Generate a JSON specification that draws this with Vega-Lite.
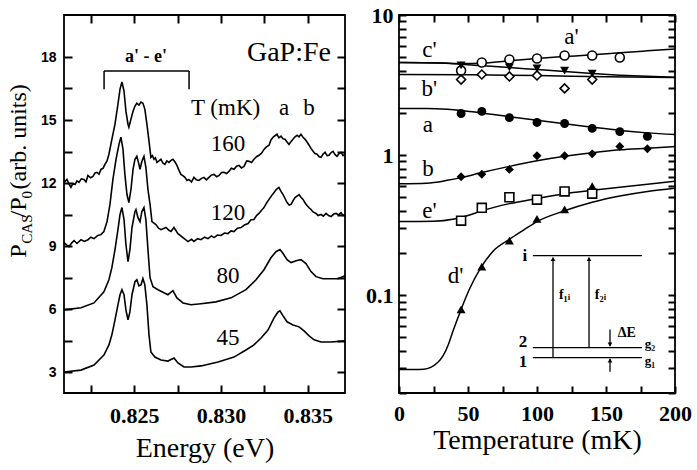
{
  "$schema": "https://vega.github.io/schema/vega-lite/v6.json",
  "background": "white",
  "padding": {"left": 6, "top": 3, "right": 5, "bottom": 5},
  "spacing": 14,
  "config": {
    "font": "Liberation Serif",
    "view": {"stroke": "black", "strokeWidth": 1.8},
    "axis": {"domain": false, "grid": false, "labelColor": "black", "titleColor": "black", "labelFont": "Liberation Serif", "titleFont": "Liberation Serif", "titleFontWeight": "normal", "labelFontWeight": "bold", "labelFontSize": 22, "titleFontSize": 28, "labelFlush": false, "labelOverlap": false}
  },
  "datasets": {
    "spectra": [
      {"T":45,"E":0.82095,"V":3.00},{"T":45,"E":0.82193,"V":3.09},{"T":45,"E":0.82268,"V":3.33},{"T":45,"E":0.82325,"V":3.81},{"T":45,"E":0.82354,"V":4.29},{"T":45,"E":0.82371,"V":4.77},{"T":45,"E":0.82389,"V":5.48},{"T":45,"E":0.82406,"V":6.20},{"T":45,"E":0.82418,"V":6.68},{"T":45,"E":0.82429,"V":6.92},{"T":45,"E":0.82441,"V":6.68},{"T":45,"E":0.82452,"V":5.96},{"T":45,"E":0.82464,"V":5.48},{"T":45,"E":0.82475,"V":5.86},{"T":45,"E":0.82487,"V":6.68},{"T":45,"E":0.82504,"V":7.30},{"T":45,"E":0.82515,"V":7.39},{"T":45,"E":0.82527,"V":7.10},{"T":45,"E":0.82539,"V":7.15},{"T":45,"E":0.82550,"V":7.45},{"T":45,"E":0.82561,"V":7.15},{"T":45,"E":0.82573,"V":6.20},{"T":45,"E":0.82585,"V":4.77},{"T":45,"E":0.82596,"V":3.95},{"T":45,"E":0.82619,"V":3.71},{"T":45,"E":0.82654,"V":3.57},{"T":45,"E":0.82694,"V":3.52},{"T":45,"E":0.82729,"V":3.67},{"T":45,"E":0.82752,"V":3.43},{"T":45,"E":0.82787,"V":3.24},{"T":45,"E":0.82827,"V":3.24},{"T":45,"E":0.82885,"V":3.29},{"T":45,"E":0.82983,"V":3.48},{"T":45,"E":0.83075,"V":3.71},{"T":45,"E":0.83144,"V":4.05},{"T":45,"E":0.83190,"V":4.29},{"T":45,"E":0.83231,"V":4.62},{"T":45,"E":0.83271,"V":5.00},{"T":45,"E":0.83306,"V":5.58},{"T":45,"E":0.83329,"V":5.86},{"T":45,"E":0.83340,"V":5.91},{"T":45,"E":0.83358,"V":5.67},{"T":45,"E":0.83381,"V":5.39},{"T":45,"E":0.83415,"V":5.24},{"T":45,"E":0.83450,"V":5.15},{"T":45,"E":0.83479,"V":4.96},{"T":45,"E":0.83508,"V":4.72},{"T":45,"E":0.83537,"V":4.53},{"T":45,"E":0.83577,"V":4.43},{"T":45,"E":0.83635,"V":4.43},{"T":45,"E":0.83715,"V":4.48},
      {"T":80,"E":0.82095,"V":5.96},{"T":80,"E":0.82193,"V":6.06},{"T":80,"E":0.82268,"V":6.29},{"T":80,"E":0.82325,"V":6.82},{"T":80,"E":0.82354,"V":7.39},{"T":80,"E":0.82371,"V":7.97},{"T":80,"E":0.82389,"V":8.83},{"T":80,"E":0.82406,"V":9.78},{"T":80,"E":0.82418,"V":10.50},{"T":80,"E":0.82429,"V":10.83},{"T":80,"E":0.82441,"V":10.26},{"T":80,"E":0.82452,"V":9.07},{"T":80,"E":0.82464,"V":8.25},{"T":80,"E":0.82475,"V":8.83},{"T":80,"E":0.82487,"V":9.88},{"T":80,"E":0.82504,"V":10.64},{"T":80,"E":0.82510,"V":10.74},{"T":80,"E":0.82521,"V":10.36},{"T":80,"E":0.82533,"V":10.16},{"T":80,"E":0.82544,"V":10.64},{"T":80,"E":0.82556,"V":10.83},{"T":80,"E":0.82567,"V":10.26},{"T":80,"E":0.82579,"V":8.83},{"T":80,"E":0.82591,"V":7.49},{"T":80,"E":0.82608,"V":7.06},{"T":80,"E":0.82637,"V":6.92},{"T":80,"E":0.82671,"V":6.77},{"T":80,"E":0.82694,"V":6.68},{"T":80,"E":0.82723,"V":6.87},{"T":80,"E":0.82746,"V":6.53},{"T":80,"E":0.82781,"V":6.29},{"T":80,"E":0.82827,"V":6.20},{"T":80,"E":0.82885,"V":6.25},{"T":80,"E":0.82971,"V":6.34},{"T":80,"E":0.83058,"V":6.53},{"T":80,"E":0.83144,"V":6.92},{"T":80,"E":0.83202,"V":7.39},{"T":80,"E":0.83248,"V":7.87},{"T":80,"E":0.83288,"V":8.44},{"T":80,"E":0.83317,"V":8.73},{"T":80,"E":0.83340,"V":8.83},{"T":80,"E":0.83358,"V":8.64},{"T":80,"E":0.83381,"V":8.35},{"T":80,"E":0.83404,"V":8.21},{"T":80,"E":0.83433,"V":8.30},{"T":80,"E":0.83461,"V":8.35},{"T":80,"E":0.83490,"V":8.16},{"T":80,"E":0.83519,"V":7.78},{"T":80,"E":0.83548,"V":7.54},{"T":80,"E":0.83588,"V":7.44},{"T":80,"E":0.83635,"V":7.44},{"T":80,"E":0.83675,"V":7.44},{"T":80,"E":0.83715,"V":7.58},
      {"T":120,"E":0.82095,"V":9.16},{"T":120,"E":0.82110,"V":9.05},{"T":120,"E":0.82124,"V":8.97},{"T":120,"E":0.82140,"V":9.15},{"T":120,"E":0.82153,"V":9.26},{"T":120,"E":0.82170,"V":9.12},{"T":120,"E":0.82193,"V":9.30},{"T":120,"E":0.82213,"V":9.22},{"T":120,"E":0.82233,"V":9.30},{"T":120,"E":0.82250,"V":9.42},{"T":120,"E":0.82268,"V":9.35},{"T":120,"E":0.82290,"V":9.50},{"T":120,"E":0.82308,"V":9.54},{"T":120,"E":0.82325,"V":9.69},{"T":120,"E":0.82343,"V":10.16},{"T":120,"E":0.82360,"V":10.98},{"T":120,"E":0.82377,"V":12.17},{"T":120,"E":0.82395,"V":13.13},{"T":120,"E":0.82412,"V":13.84},{"T":120,"E":0.82423,"V":14.18},{"T":120,"E":0.82435,"V":13.61},{"T":120,"E":0.82446,"V":12.41},{"T":120,"E":0.82458,"V":11.45},{"T":120,"E":0.82469,"V":11.07},{"T":120,"E":0.82481,"V":11.69},{"T":120,"E":0.82493,"V":12.65},{"T":120,"E":0.82504,"V":13.13},{"T":120,"E":0.82515,"V":13.27},{"T":120,"E":0.82527,"V":12.89},{"T":120,"E":0.82533,"V":12.65},{"T":120,"E":0.82544,"V":13.03},{"T":120,"E":0.82556,"V":13.27},{"T":120,"E":0.82567,"V":12.75},{"T":120,"E":0.82579,"V":11.69},{"T":120,"E":0.82591,"V":10.98},{"T":120,"E":0.82602,"V":10.16},{"T":120,"E":0.82625,"V":10.02},{"T":120,"E":0.82640,"V":9.85},{"T":120,"E":0.82654,"V":9.78},{"T":120,"E":0.82683,"V":9.88},{"T":120,"E":0.82700,"V":9.75},{"T":120,"E":0.82712,"V":9.69},{"T":120,"E":0.82729,"V":9.88},{"T":120,"E":0.82752,"V":9.59},{"T":120,"E":0.82781,"V":9.40},{"T":120,"E":0.82810,"V":9.21},{"T":120,"E":0.82830,"V":9.32},{"T":120,"E":0.82844,"V":9.22},{"T":120,"E":0.82865,"V":9.35},{"T":120,"E":0.82885,"V":9.30},{"T":120,"E":0.82905,"V":9.42},{"T":120,"E":0.82925,"V":9.35},{"T":120,"E":0.82945,"V":9.48},{"T":120,"E":0.82960,"V":9.40},{"T":120,"E":0.82980,"V":9.52},{"T":120,"E":0.83000,"V":9.50},{"T":120,"E":0.83020,"V":9.62},{"T":120,"E":0.83040,"V":9.59},{"T":120,"E":0.83058,"V":9.72},{"T":120,"E":0.83075,"V":9.69},{"T":120,"E":0.83095,"V":9.85},{"T":120,"E":0.83116,"V":9.88},{"T":120,"E":0.83135,"V":10.00},{"T":120,"E":0.83156,"V":10.07},{"T":120,"E":0.83173,"V":10.25},{"T":120,"E":0.83190,"V":10.26},{"T":120,"E":0.83205,"V":10.45},{"T":120,"E":0.83219,"V":10.55},{"T":120,"E":0.83234,"V":10.70},{"T":120,"E":0.83248,"V":10.83},{"T":120,"E":0.83263,"V":11.05},{"T":120,"E":0.83277,"V":11.22},{"T":120,"E":0.83292,"V":11.40},{"T":120,"E":0.83306,"V":11.55},{"T":120,"E":0.83320,"V":11.70},{"T":120,"E":0.83334,"V":11.79},{"T":120,"E":0.83346,"V":11.60},{"T":120,"E":0.83358,"V":11.45},{"T":120,"E":0.83370,"V":11.25},{"T":120,"E":0.83381,"V":11.07},{"T":120,"E":0.83393,"V":10.95},{"T":120,"E":0.83404,"V":10.98},{"T":120,"E":0.83415,"V":11.15},{"T":120,"E":0.83427,"V":11.31},{"T":120,"E":0.83439,"V":11.38},{"T":120,"E":0.83450,"V":11.45},{"T":120,"E":0.83461,"V":11.32},{"T":120,"E":0.83473,"V":11.22},{"T":120,"E":0.83485,"V":11.05},{"T":120,"E":0.83496,"V":10.93},{"T":120,"E":0.83508,"V":10.82},{"T":120,"E":0.83519,"V":10.74},{"T":120,"E":0.83531,"V":10.62},{"T":120,"E":0.83548,"V":10.55},{"T":120,"E":0.83560,"V":10.45},{"T":120,"E":0.83577,"V":10.50},{"T":120,"E":0.83590,"V":10.42},{"T":120,"E":0.83606,"V":10.55},{"T":120,"E":0.83620,"V":10.45},{"T":120,"E":0.83635,"V":10.40},{"T":120,"E":0.83650,"V":10.52},{"T":120,"E":0.83663,"V":10.55},{"T":120,"E":0.83678,"V":10.48},{"T":120,"E":0.83692,"V":10.59},{"T":120,"E":0.83704,"V":10.45},{"T":120,"E":0.83715,"V":10.50},
      {"T":160,"E":0.82095,"V":12.03},{"T":160,"E":0.82112,"V":12.17},{"T":160,"E":0.82124,"V":11.95},{"T":160,"E":0.82135,"V":11.79},{"T":160,"E":0.82147,"V":11.98},{"T":160,"E":0.82159,"V":11.93},{"T":160,"E":0.82170,"V":12.10},{"T":160,"E":0.82181,"V":12.03},{"T":160,"E":0.82195,"V":12.20},{"T":160,"E":0.82210,"V":12.17},{"T":160,"E":0.82222,"V":12.05},{"T":160,"E":0.82233,"V":12.36},{"T":160,"E":0.82248,"V":12.25},{"T":160,"E":0.82262,"V":12.31},{"T":160,"E":0.82274,"V":12.48},{"T":160,"E":0.82285,"V":12.51},{"T":160,"E":0.82297,"V":12.42},{"T":160,"E":0.82308,"V":12.65},{"T":160,"E":0.82320,"V":12.70},{"T":160,"E":0.82331,"V":12.89},{"T":160,"E":0.82343,"V":13.05},{"T":160,"E":0.82354,"V":13.37},{"T":160,"E":0.82371,"V":14.08},{"T":160,"E":0.82389,"V":14.80},{"T":160,"E":0.82406,"V":15.75},{"T":160,"E":0.82418,"V":16.47},{"T":160,"E":0.82429,"V":16.81},{"T":160,"E":0.82441,"V":16.38},{"T":160,"E":0.82452,"V":15.42},{"T":160,"E":0.82464,"V":14.80},{"T":160,"E":0.82469,"V":14.66},{"T":160,"E":0.82481,"V":15.04},{"T":160,"E":0.82493,"V":15.42},{"T":160,"E":0.82504,"V":15.66},{"T":160,"E":0.82515,"V":15.80},{"T":160,"E":0.82527,"V":15.71},{"T":160,"E":0.82539,"V":15.85},{"T":160,"E":0.82550,"V":15.80},{"T":160,"E":0.82561,"V":15.52},{"T":160,"E":0.82573,"V":14.80},{"T":160,"E":0.82585,"V":13.99},{"T":160,"E":0.82596,"V":13.22},{"T":160,"E":0.82605,"V":13.30},{"T":160,"E":0.82614,"V":13.13},{"T":160,"E":0.82622,"V":13.20},{"T":160,"E":0.82631,"V":12.98},{"T":160,"E":0.82642,"V":13.05},{"T":160,"E":0.82654,"V":13.13},{"T":160,"E":0.82665,"V":12.95},{"T":160,"E":0.82677,"V":12.89},{"T":160,"E":0.82688,"V":13.05},{"T":160,"E":0.82700,"V":12.98},{"T":160,"E":0.82712,"V":13.08},{"T":160,"E":0.82723,"V":13.13},{"T":160,"E":0.82735,"V":13.00},{"T":160,"E":0.82746,"V":12.84},{"T":160,"E":0.82758,"V":12.60},{"T":160,"E":0.82769,"V":12.41},{"T":160,"E":0.82780,"V":12.35},{"T":160,"E":0.82792,"V":12.27},{"T":160,"E":0.82804,"V":12.12},{"T":160,"E":0.82815,"V":12.17},{"T":160,"E":0.82830,"V":12.05},{"T":160,"E":0.82844,"V":12.27},{"T":160,"E":0.82858,"V":12.15},{"T":160,"E":0.82873,"V":12.12},{"T":160,"E":0.82888,"V":12.22},{"T":160,"E":0.82902,"V":12.27},{"T":160,"E":0.82916,"V":12.15},{"T":160,"E":0.82931,"V":12.27},{"T":160,"E":0.82945,"V":12.38},{"T":160,"E":0.82960,"V":12.41},{"T":160,"E":0.82975,"V":12.30},{"T":160,"E":0.82989,"V":12.36},{"T":160,"E":0.83003,"V":12.50},{"T":160,"E":0.83017,"V":12.51},{"T":160,"E":0.83032,"V":12.45},{"T":160,"E":0.83046,"V":12.55},{"T":160,"E":0.83060,"V":12.70},{"T":160,"E":0.83075,"V":12.65},{"T":160,"E":0.83090,"V":12.80},{"T":160,"E":0.83104,"V":12.84},{"T":160,"E":0.83118,"V":12.72},{"T":160,"E":0.83133,"V":12.79},{"T":160,"E":0.83148,"V":13.05},{"T":160,"E":0.83162,"V":13.03},{"T":160,"E":0.83176,"V":12.98},{"T":160,"E":0.83190,"V":13.13},{"T":160,"E":0.83205,"V":13.25},{"T":160,"E":0.83219,"V":13.32},{"T":160,"E":0.83234,"V":13.42},{"T":160,"E":0.83248,"V":13.60},{"T":160,"E":0.83262,"V":13.72},{"T":160,"E":0.83277,"V":13.80},{"T":160,"E":0.83288,"V":14.05},{"T":160,"E":0.83300,"V":14.18},{"T":160,"E":0.83311,"V":14.25},{"T":160,"E":0.83323,"V":14.32},{"T":160,"E":0.83334,"V":14.15},{"T":160,"E":0.83346,"V":14.23},{"T":160,"E":0.83358,"V":14.10},{"T":160,"E":0.83369,"V":14.08},{"T":160,"E":0.83381,"V":13.95},{"T":160,"E":0.83392,"V":13.84},{"T":160,"E":0.83404,"V":13.98},{"T":160,"E":0.83415,"V":14.08},{"T":160,"E":0.83427,"V":14.20},{"T":160,"E":0.83439,"V":14.27},{"T":160,"E":0.83450,"V":14.20},{"T":160,"E":0.83461,"V":14.32},{"T":160,"E":0.83473,"V":14.18},{"T":160,"E":0.83485,"V":14.08},{"T":160,"E":0.83496,"V":13.95},{"T":160,"E":0.83508,"V":13.80},{"T":160,"E":0.83519,"V":13.65},{"T":160,"E":0.83531,"V":13.51},{"T":160,"E":0.83542,"V":13.40},{"T":160,"E":0.83554,"V":13.37},{"T":160,"E":0.83566,"V":13.25},{"T":160,"E":0.83577,"V":13.22},{"T":160,"E":0.83589,"V":13.38},{"T":160,"E":0.83600,"V":13.46},{"T":160,"E":0.83612,"V":13.30},{"T":160,"E":0.83623,"V":13.32},{"T":160,"E":0.83635,"V":13.45},{"T":160,"E":0.83646,"V":13.51},{"T":160,"E":0.83658,"V":13.35},{"T":160,"E":0.83669,"V":13.27},{"T":160,"E":0.83681,"V":13.40},{"T":160,"E":0.83692,"V":13.46},{"T":160,"E":0.83704,"V":13.30},{"T":160,"E":0.83715,"V":13.37}
    ],
    "pts": [
      {"s":"ap","T":45,"v":4.01},{"s":"ap","T":60,"v":4.58},{"s":"ap","T":80,"v":4.81},{"s":"ap","T":100,"v":4.89},{"s":"ap","T":120,"v":5.14},{"s":"ap","T":140,"v":5.14},{"s":"ap","T":160,"v":4.97},
      {"s":"cp","T":45,"v":4.36},{"s":"cp","T":80,"v":4.22},{"s":"cp","T":100,"v":4.15},{"s":"cp","T":120,"v":4.01},{"s":"cp","T":140,"v":3.82},
      {"s":"bp","T":45,"v":3.46},{"s":"bp","T":60,"v":3.76},{"s":"bp","T":80,"v":3.64},{"s":"bp","T":100,"v":3.70},{"s":"bp","T":120,"v":2.99},{"s":"bp","T":140,"v":3.46},
      {"s":"a","T":45,"v":1.98},{"s":"a","T":60,"v":2.05},{"s":"a","T":80,"v":1.85},{"s":"a","T":100,"v":1.71},{"s":"a","T":120,"v":1.68},{"s":"a","T":140,"v":1.55},{"s":"a","T":160,"v":1.47},{"s":"a","T":180,"v":1.36},
      {"s":"b","T":45,"v":0.70},{"s":"b","T":60,"v":0.73},{"s":"b","T":80,"v":0.79},{"s":"b","T":100,"v":0.99},{"s":"b","T":120,"v":0.99},{"s":"b","T":140,"v":1.02},{"s":"b","T":160,"v":1.15},{"s":"b","T":180,"v":1.11},
      {"s":"ep","T":45,"v":0.34},{"s":"ep","T":60,"v":0.42},{"s":"ep","T":80,"v":0.50},{"s":"ep","T":100,"v":0.48},{"s":"ep","T":120,"v":0.55},{"s":"ep","T":140,"v":0.53},
      {"s":"dp","T":45,"v":0.079},{"s":"dp","T":60,"v":0.16},{"s":"dp","T":80,"v":0.245},{"s":"dp","T":100,"v":0.35},{"s":"dp","T":120,"v":0.41},{"s":"dp","T":140,"v":0.60}
    ],
    "fits": [
      {"s":"ap","T":0,"v":4.58},{"s":"ap","T":30,"v":4.55},{"s":"ap","T":45,"v":4.5},{"s":"ap","T":60,"v":4.52},{"s":"ap","T":80,"v":4.72},{"s":"ap","T":100,"v":4.9},{"s":"ap","T":120,"v":5.05},{"s":"ap","T":140,"v":5.2},{"s":"ap","T":160,"v":5.38},{"s":"ap","T":180,"v":5.55},{"s":"ap","T":200,"v":5.72},
      {"s":"cp","T":0,"v":4.58},{"s":"cp","T":30,"v":4.55},{"s":"cp","T":45,"v":4.45},{"s":"cp","T":60,"v":4.35},{"s":"cp","T":80,"v":4.22},{"s":"cp","T":100,"v":4.08},{"s":"cp","T":120,"v":3.95},{"s":"cp","T":140,"v":3.82},{"s":"cp","T":160,"v":3.72},{"s":"cp","T":180,"v":3.65},{"s":"cp","T":200,"v":3.6},
      {"s":"bp","T":0,"v":3.76},{"s":"bp","T":50,"v":3.74},{"s":"bp","T":100,"v":3.7},{"s":"bp","T":150,"v":3.62},{"s":"bp","T":200,"v":3.58},
      {"s":"a","T":0,"v":2.15},{"s":"a","T":20,"v":2.15},{"s":"a","T":35,"v":2.12},{"s":"a","T":45,"v":2.08},{"s":"a","T":60,"v":2.0},{"s":"a","T":80,"v":1.88},{"s":"a","T":100,"v":1.77},{"s":"a","T":120,"v":1.67},{"s":"a","T":140,"v":1.58},{"s":"a","T":160,"v":1.5},{"s":"a","T":180,"v":1.44},{"s":"a","T":200,"v":1.40},
      {"s":"b","T":0,"v":0.625},{"s":"b","T":20,"v":0.63},{"s":"b","T":35,"v":0.66},{"s":"b","T":45,"v":0.69},{"s":"b","T":60,"v":0.75},{"s":"b","T":80,"v":0.83},{"s":"b","T":100,"v":0.91},{"s":"b","T":120,"v":0.98},{"s":"b","T":140,"v":1.04},{"s":"b","T":160,"v":1.09},{"s":"b","T":180,"v":1.12},{"s":"b","T":200,"v":1.15},
      {"s":"ep","T":0,"v":0.335},{"s":"ep","T":25,"v":0.337},{"s":"ep","T":40,"v":0.35},{"s":"ep","T":50,"v":0.37},{"s":"ep","T":60,"v":0.40},{"s":"ep","T":80,"v":0.45},{"s":"ep","T":100,"v":0.49},{"s":"ep","T":120,"v":0.53},{"s":"ep","T":140,"v":0.56},{"s":"ep","T":160,"v":0.59},{"s":"ep","T":180,"v":0.62},{"s":"ep","T":200,"v":0.65},
      {"s":"dp","T":0,"v":0.0294},{"s":"dp","T":18,"v":0.0296},{"s":"dp","T":23,"v":0.0305},{"s":"dp","T":28,"v":0.033},{"s":"dp","T":32,"v":0.037},{"s":"dp","T":36,"v":0.045},{"s":"dp","T":39,"v":0.055},{"s":"dp","T":42,"v":0.066},{"s":"dp","T":45,"v":0.079},{"s":"dp","T":51,"v":0.11},{"s":"dp","T":59,"v":0.155},{"s":"dp","T":68,"v":0.205},{"s":"dp","T":80,"v":0.25},{"s":"dp","T":90,"v":0.29},{"s":"dp","T":100,"v":0.335},{"s":"dp","T":120,"v":0.40},{"s":"dp","T":140,"v":0.46},{"s":"dp","T":160,"v":0.51},{"s":"dp","T":180,"v":0.55},{"s":"dp","T":200,"v":0.58}
    ]
  },
  "hconcat": [
    {
      "width": 281,
      "height": 378,
      "resolve": {"axis": {"x": "independent", "y": "independent"}},
      "layer": [
        {
          "data": {"name": "spectra"},
          "mark": {"type": "line", "color": "black", "strokeWidth": 1.6},
          "encoding": {
            "x": {"field": "E", "type": "quantitative", "scale": {"domain": [0.82095, 0.83715], "nice": false, "zero": false},
              "axis": {"orient": "bottom", "values": [0.8225, 0.825, 0.8275, 0.83, 0.8325, 0.835], "format": ".3f", "labelExpr": "abs(datum.value*200 - round(datum.value*200)) < 0.01 ? datum.label : ''", "ticks": true, "tickColor": "black", "tickWidth": 2, "tickSize": -8, "labelPadding": 20, "title": "Energy (eV)", "titleFont": "Liberation Serif", "titleFontWeight": 400, "titleFontSize": 28, "titlePadding": 8}},
            "y": {"field": "V", "type": "quantitative", "scale": {"domain": [2, 20], "nice": false, "zero": false},
              "axis": {"orient": "left", "values": [3, 4.5, 6, 7.5, 9, 10.5, 12, 13.5, 15, 16.5, 18], "labelExpr": "datum.value % 3 == 0 ? datum.label : ''", "ticks": true, "tickColor": "black", "tickWidth": 2, "tickSize": -8, "labelPadding": 16, "labelFont": "Liberation Sans", "labelFontSize": 14, "title": null}},
            "detail": {"field": "T", "type": "nominal"}
          }
        },
        {
          "data": {"values": [{"E": 0.83040, "V": 13.84, "t": "160"}, {"E": 0.83040, "V": 10.59, "t": "120"}, {"E": 0.83040, "V": 7.58, "t": "80"}, {"E": 0.83040, "V": 4.62, "t": "45"}]},
          "mark": {"type": "text", "fontSize": 23, "align": "center", "baseline": "middle", "color": "black"},
          "encoding": {
            "x": {"field": "E", "type": "quantitative", "axis": {"orient": "top", "values": [0.8225, 0.825, 0.8275, 0.83, 0.8325, 0.835], "labels": false, "ticks": true, "tickColor": "black", "tickWidth": 2, "tickSize": -8, "title": null}},
            "y": {"field": "V", "type": "quantitative", "axis": {"orient": "right", "values": [3, 4.5, 6, 7.5, 9, 10.5, 12, 13.5, 15, 16.5, 18], "labels": false, "ticks": true, "tickColor": "black", "tickWidth": 2, "tickSize": -8, "title": null}},
            "text": {"field": "t"}
          }
        },
        {
          "data": {"values": [{"E": 0.82568, "V": 18.0, "t": "a' - e'"}]},
          "mark": {"type": "text", "fontSize": 18, "fontWeight": "bold", "align": "center", "baseline": "middle", "color": "black"},
          "encoding": {"x": {"field": "E", "type": "quantitative", "axis": null}, "y": {"field": "V", "type": "quantitative", "axis": null}, "text": {"field": "t"}}
        },
        {
          "data": {"values": [{"E": 0.83634, "V": 18.21, "t": "GaP:Fe"}]},
          "mark": {"type": "text", "fontSize": 28, "align": "right", "baseline": "middle", "color": "black"},
          "encoding": {"x": {"field": "E", "type": "quantitative", "axis": null}, "y": {"field": "V", "type": "quantitative", "axis": null}, "text": {"field": "t"}}
        },
        {
          "data": {"values": [{"E": 0.82827, "V": 15.56, "t": "T (mK)"}, {"E": 0.83334, "V": 15.56, "t": "a"}, {"E": 0.83475, "V": 15.56, "t": "b"}]},
          "mark": {"type": "text", "fontSize": 23, "align": "left", "baseline": "middle", "color": "black"},
          "encoding": {"x": {"field": "E", "type": "quantitative", "axis": null}, "y": {"field": "V", "type": "quantitative", "axis": null}, "text": {"field": "t"}}
        },
        {
          "data": {"values": [{"E1": 0.82326, "E2": 0.82816, "V": 17.33}]},
          "mark": {"type": "rule", "color": "black", "strokeWidth": 1.5},
          "encoding": {"x": {"field": "E1", "type": "quantitative", "axis": null}, "x2": {"field": "E2"}, "y": {"field": "V", "type": "quantitative", "axis": null}}
        },
        {
          "data": {"values": [{"E": 0.82326, "V1": 17.33, "V2": 16.47}, {"E": 0.82816, "V1": 17.33, "V2": 16.47}]},
          "mark": {"type": "rule", "color": "black", "strokeWidth": 1.5},
          "encoding": {"x": {"field": "E", "type": "quantitative", "axis": null}, "y": {"field": "V1", "type": "quantitative", "axis": null}, "y2": {"field": "V2"}}
        },
        {
          "data": {"values": [{"E": 0.81877, "V": 8.44, "t": "P"}, {"E": 0.81877, "V": 10.36, "t": "/P"}, {"E": 0.81877, "V": 11.69, "t": "(arb. units)"}]},
          "mark": {"type": "text", "fontSize": 24, "angle": 270, "align": "left", "baseline": "alphabetic", "color": "black"},
          "encoding": {"x": {"field": "E", "type": "quantitative", "axis": null}, "y": {"field": "V", "type": "quantitative", "axis": null}, "text": {"field": "t"}}
        },
        {
          "data": {"values": [{"E": 0.81911, "V": 9.11, "t": "CAS"}, {"E": 0.81911, "V": 11.26, "t": "0"}]},
          "mark": {"type": "text", "fontSize": 15, "angle": 270, "align": "left", "baseline": "alphabetic", "color": "black"},
          "encoding": {"x": {"field": "E", "type": "quantitative", "axis": null}, "y": {"field": "V", "type": "quantitative", "axis": null}, "text": {"field": "t"}}
        }
      ]
    },
    {
      "width": 276,
      "height": 378,
      "resolve": {"axis": {"x": "independent", "y": "independent"}, "scale": {"shape": "independent"}},
      "layer": [
        {
          "data": {"name": "fits"},
          "mark": {"type": "line", "color": "black", "strokeWidth": 1.5, "interpolate": "monotone"},
          "encoding": {
            "x": {"field": "T", "type": "quantitative", "scale": {"domain": [0, 200], "nice": false, "zero": false},
              "axis": {"orient": "bottom", "values": [0, 25, 50, 75, 100, 125, 150, 175, 200], "labelExpr": "datum.value % 50 == 0 ? datum.label : ''", "ticks": true, "tickColor": "black", "tickWidth": 2, "tickSize": -7, "labelPadding": 17, "title": "Temperature  (mK)", "titleFont": "Liberation Serif", "titleFontWeight": 400, "titleFontSize": 28, "titlePadding": 2}},
            "y": {"field": "v", "type": "quantitative", "scale": {"type": "log", "domain": [0.02, 10], "nice": false},
              "axis": {"orient": "left", "values": [0.02, 0.03, 0.04, 0.05, 0.06, 0.07, 0.08, 0.09, 0.1, 0.2, 0.3, 0.4, 0.5, 0.6, 0.7, 0.8, 0.9, 1, 2, 3, 4, 5, 6, 7, 8, 9, 10], "labelExpr": "datum.value == 0.1 ? '0.1' : datum.value == 1 ? '1' : datum.value == 10 ? '10' : ''", "ticks": true, "tickColor": "black", "tickWidth": 2, "tickSize": -7, "labelPadding": 13, "title": null}},
            "detail": {"field": "s", "type": "nominal"}
          }
        },
        {
          "data": {"name": "pts"},
          "transform": [{"filter": {"field": "s", "oneOf": ["ap", "bp", "ep"]}}],
          "mark": {"type": "point", "filled": true, "fill": "white", "stroke": "black", "strokeWidth": 1.6, "size": 80, "opacity": 1},
          "encoding": {
            "x": {"field": "T", "type": "quantitative", "axis": null},
            "y": {"field": "v", "type": "quantitative", "axis": null},
            "shape": {"field": "s", "type": "nominal", "scale": {"domain": ["ap", "bp", "ep"], "range": ["circle", "diamond", "square"]}, "legend": null}
          }
        },
        {
          "data": {"name": "pts"},
          "transform": [{"filter": {"field": "s", "oneOf": ["cp", "a", "b", "dp"]}}],
          "mark": {"type": "point", "filled": true, "color": "black", "size": 80, "opacity": 1},
          "encoding": {
            "x": {"field": "T", "type": "quantitative", "axis": null},
            "y": {"field": "v", "type": "quantitative", "axis": null},
            "shape": {"field": "s", "type": "nominal", "scale": {"domain": ["cp", "a", "b", "dp"], "range": ["triangle-down", "circle", "diamond", "triangle-up"]}, "legend": null}
          }
        },
        {
          "data": {"values": [{"T": 22, "v": 5.67, "t": "c'"}, {"T": 125, "v": 7.0, "t": "a'"}, {"T": 22, "v": 2.94, "t": "b'"}, {"T": 21, "v": 1.65, "t": "a"}, {"T": 21, "v": 0.80, "t": "b"}, {"T": 22, "v": 0.40, "t": "e'"}, {"T": 41, "v": 0.138, "t": "d'"}]},
          "mark": {"type": "text", "fontSize": 23, "align": "center", "baseline": "middle", "color": "black"},
          "encoding": {
            "x": {"field": "T", "type": "quantitative", "axis": {"orient": "top", "values": [0, 25, 50, 75, 100, 125, 150, 175, 200], "labels": false, "ticks": true, "tickColor": "black", "tickWidth": 2, "tickSize": -7, "title": null}},
            "y": {"field": "v", "type": "quantitative", "axis": {"orient": "right", "values": [0.02, 0.03, 0.04, 0.05, 0.06, 0.07, 0.08, 0.09, 0.1, 0.2, 0.3, 0.4, 0.5, 0.6, 0.7, 0.8, 0.9, 1, 2, 3, 4, 5, 6, 7, 8, 9, 10], "labels": false, "ticks": true, "tickColor": "black", "tickWidth": 2, "tickSize": -7, "title": null}},
            "text": {"field": "t"}
          }
        },
        {
          "data": {"values": [{"T1": 97, "T2": 176, "v": 0.1914}, {"T1": 97, "T2": 176, "v": 0.0422}, {"T1": 97, "T2": 176, "v": 0.0358}]},
          "mark": {"type": "rule", "color": "black", "strokeWidth": 1.3},
          "encoding": {"x": {"field": "T1", "type": "quantitative", "axis": null}, "x2": {"field": "T2"}, "y": {"field": "v", "type": "quantitative", "axis": null}}
        },
        {
          "data": {"values": [{"T": 111.6, "v1": 0.0358, "v2": 0.185}, {"T": 137.7, "v1": 0.0422, "v2": 0.185}, {"T": 152.9, "v1": 0.0567, "v2": 0.0435}, {"T": 152.9, "v1": 0.0284, "v2": 0.0348}]},
          "mark": {"type": "rule", "color": "black", "strokeWidth": 1.3},
          "encoding": {"x": {"field": "T", "type": "quantitative", "axis": null}, "y": {"field": "v1", "type": "quantitative", "axis": null}, "y2": {"field": "v2"}}
        },
        {
          "data": {"values": [{"T": 111.6, "v": 0.181}, {"T": 137.7, "v": 0.181}, {"T": 152.9, "v": 0.0342}]},
          "mark": {"type": "point", "shape": "triangle-up", "filled": true, "color": "black", "size": 22, "opacity": 1},
          "encoding": {"x": {"field": "T", "type": "quantitative", "axis": null}, "y": {"field": "v", "type": "quantitative", "axis": null}}
        },
        {
          "data": {"values": [{"T": 152.9, "v": 0.0443}]},
          "mark": {"type": "point", "shape": "triangle-down", "filled": true, "color": "black", "size": 22, "opacity": 1},
          "encoding": {"x": {"field": "T", "type": "quantitative", "axis": null}, "y": {"field": "v", "type": "quantitative", "axis": null}}
        },
        {
          "data": {"values": [{"T": 93, "v": 0.1914, "t": "i"}, {"T": 93, "v": 0.0462, "t": "2"}, {"T": 93, "v": 0.0335, "t": "1"}]},
          "mark": {"type": "text", "fontSize": 17, "fontWeight": "bold", "align": "right", "baseline": "middle", "color": "black"},
          "encoding": {"x": {"field": "T", "type": "quantitative", "axis": null}, "y": {"field": "v", "type": "quantitative", "axis": null}, "text": {"field": "t"}}
        },
        {
          "data": {"values": [{"T": 178, "v": 0.0448, "t": "g₂"}, {"T": 178, "v": 0.0338, "t": "g₁"}]},
          "mark": {"type": "text", "fontSize": 13, "fontWeight": "bold", "align": "left", "baseline": "middle", "color": "black"},
          "encoding": {"x": {"field": "T", "type": "quantitative", "axis": null}, "y": {"field": "v", "type": "quantitative", "axis": null}, "text": {"field": "t"}}
        },
        {
          "data": {"values": [{"T": 120, "v": 0.101, "t": "f₁ᵢ"}, {"T": 146, "v": 0.101, "t": "f₂ᵢ"}, {"T": 165, "v": 0.054, "t": "ΔE"}]},
          "mark": {"type": "text", "fontSize": 14, "fontWeight": "bold", "align": "center", "baseline": "middle", "color": "black"},
          "encoding": {"x": {"field": "T", "type": "quantitative", "axis": null}, "y": {"field": "v", "type": "quantitative", "axis": null}, "text": {"field": "t"}}
        }
      ]
    }
  ]
}
